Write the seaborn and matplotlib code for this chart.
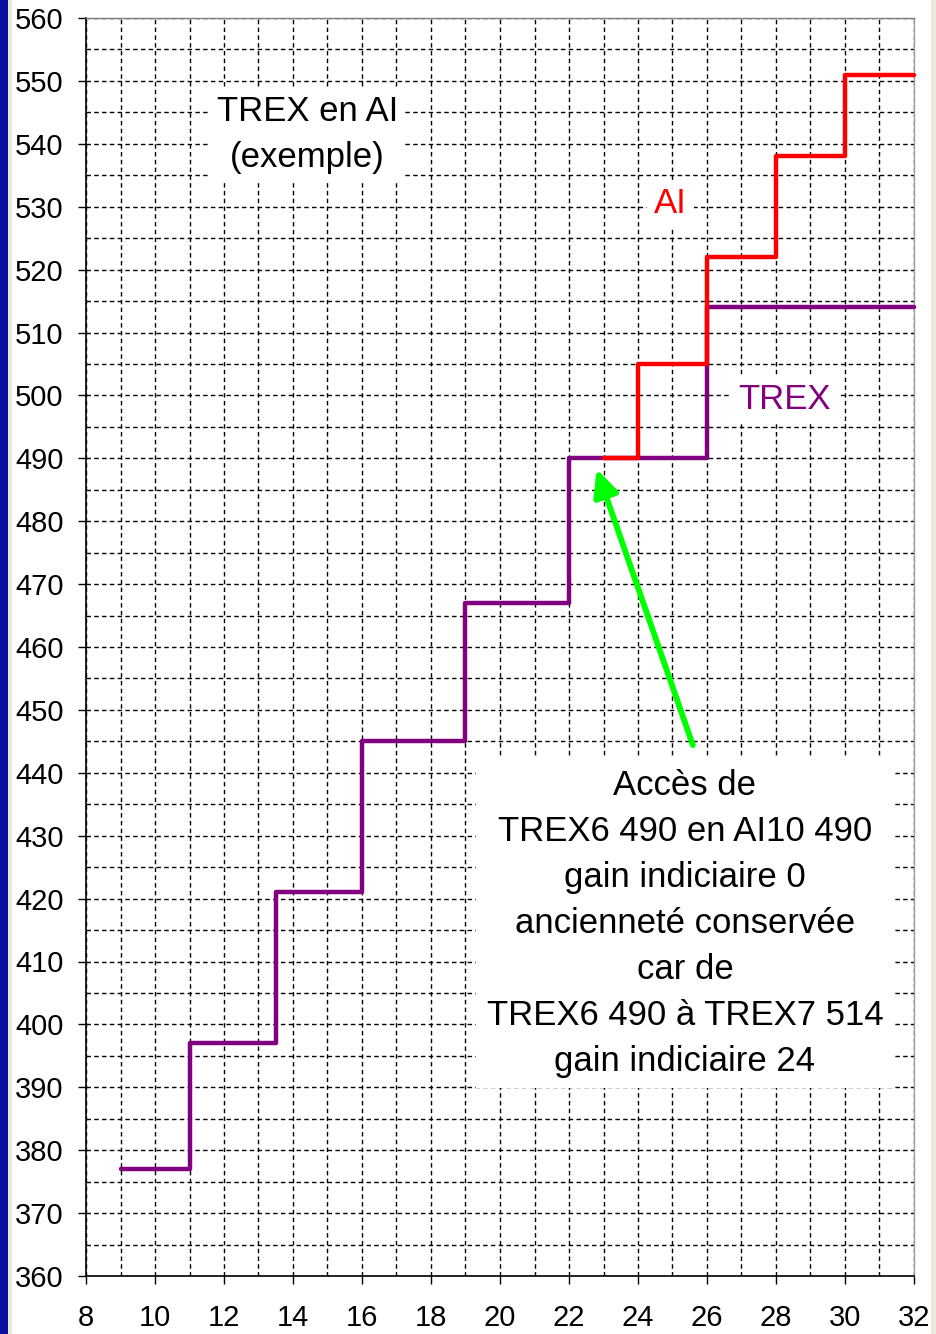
import matplotlib
matplotlib.use('Agg')
import matplotlib.pyplot as plt
import seaborn as sns
from matplotlib.ticker import MultipleLocator
from matplotlib.patches import Rectangle

# ---- data ----
trex_x = [9, 11, 13.5, 16, 19, 22, 26, 32]
trex_y = [377, 397, 421, 445, 467, 490, 514, 514]
ai_x = [23, 24, 26, 28, 30, 32]
ai_y = [490, 505, 522, 538, 551, 551]
x_ticks = list(range(8, 33, 2))
y_ticks = list(range(360, 561, 10))

title_text = "TREX en AI\n(exemple)"
ai_label = "AI"
trex_label = "TREX"
note_text = ("Accès de\nTREX6 490 en AI10 490\ngain indiciaire 0\n"
             "ancienneté conservée\ncar de\nTREX6 490 à TREX7 514\ngain indiciaire 24")

sns.set_theme(style='white')
plt.rcParams['font.family'] = ['Liberation Sans', 'DejaVu Sans']

W, H = 937, 1334
fig = plt.figure(figsize=(W / 100, H / 100), dpi=100)
fig.patch.set_facecolor('white')

# window frame decorations
fig.patches.append(Rectangle((0, 0), 8 / W, 1, transform=fig.transFigure,
                             facecolor='#0A10A0', edgecolor='none', zorder=0))
fig.patches.append(Rectangle((8 / W, 0), 4 / W, 1, transform=fig.transFigure,
                             facecolor='#ECE9D8', edgecolor='none', zorder=0))
fig.patches.append(Rectangle((931 / W, 0), 6 / W, 1, transform=fig.transFigure,
                             facecolor='#ECE9D8', edgecolor='none', zorder=0))

ax = fig.add_axes([86 / W, 1 - 1276 / H, (914 - 86) / W, (1276 - 18) / H])
ax.set_facecolor('white')

sns.lineplot(x=trex_x, y=trex_y, drawstyle='steps-post', color='#800080',
             lw=3.2, ax=ax, zorder=3, clip_on=False)
sns.lineplot(x=ai_x, y=ai_y, drawstyle='steps-post', color='#FF0000',
             lw=3.2, ax=ax, zorder=4, clip_on=False)

ax.set_xlim(8, 32)
ax.set_ylim(360, 560)
ax.set_xticks(x_ticks)
ax.set_yticks(y_ticks)
ax.xaxis.set_minor_locator(MultipleLocator(1))
ax.yaxis.set_minor_locator(MultipleLocator(5))
ax.set_axisbelow(True)
ax.grid(which='both', color='black', lw=1.0, linestyle=(0, (3.2, 2.4)))
ax.tick_params(axis='both', which='major', direction='out', length=6,
               width=1, color='black', labelsize=21, labelcolor='black',
               bottom=True, left=True)
ax.tick_params(axis='x', which='major', pad=14)
ax.tick_params(axis='y', which='major', pad=10)
ax.tick_params(which='minor', length=0)
ax.set_xlabel('')
ax.set_ylabel('')

for s in ['left', 'bottom']:
    ax.spines[s].set_color('black')
    ax.spines[s].set_linewidth(1.2)
ax.spines['top'].set_color('#808080')
ax.spines['top'].set_linewidth(1)
ax.spines['right'].set_color('#A0A0A0')
ax.spines['right'].set_linewidth(1)

if ax.get_legend():
    ax.get_legend().remove()

box = dict(facecolor='white', edgecolor='none', boxstyle='square,pad=0.2')

ax.text(14.42, 541.5, title_text, ha='center', va='center', multialignment='center',
        fontsize=25, linespacing=1.5, color='black', bbox=box, zorder=5)
ax.text(24.94, 529.0, ai_label, ha='center', va='baseline', fontsize=25,
        color='#FF0000', bbox=box, zorder=5)
ax.text(28.26, 497.8, trex_label, ha='center', va='baseline', fontsize=25,
        color='#800080', bbox=box, zorder=5)
ax.text(25.36, 416.1, note_text, ha='center', va='center', multialignment='center',
        fontsize=25, linespacing=1.5, color='black', zorder=5,
        bbox=dict(facecolor='white', edgecolor='none', boxstyle='square,pad=0.3'))

ax.annotate('', xy=(22.80, 488.3), xytext=(25.59, 444.4),
            arrowprops=dict(arrowstyle='-|>,head_length=0.8,head_width=0.38',
                            color='#00FF00', lw=4.2, mutation_scale=20,
                            shrinkA=0, shrinkB=0), zorder=6)

fig.savefig('out.png', dpi=100, facecolor=fig.get_facecolor())
